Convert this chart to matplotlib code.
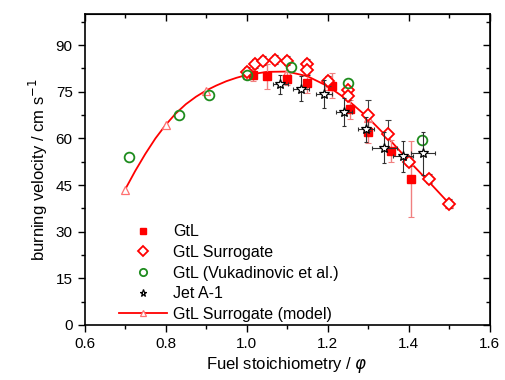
import numpy as np
import matplotlib
matplotlib.use('Agg')
from matplotlib import pyplot as plt

# GtL surrogate model curve
phi_model = [0.700, 0.725, 0.750, 0.775, 0.800, 0.825, 0.850, 0.875, 0.900,
             0.925, 0.950, 0.975, 1.000, 1.050, 1.100, 1.150, 1.200, 1.250,
             1.300, 1.350, 1.400, 1.450, 1.500]
su_model = [43.5, 49.5, 55.0, 60.0, 64.3, 68.0, 71.0, 73.4, 75.4,
            77.0, 78.4, 79.5, 80.4, 81.4, 81.5, 80.0, 76.8, 72.3,
            66.6, 60.0, 52.8, 46.0, 39.0]
model_marks = [0, 4, 8, 12, 14, 16, 18, 20, 22]

# GtL (measured)
phi_gtl = [1.015, 1.05, 1.10, 1.15, 1.21, 1.255, 1.30, 1.355, 1.405]
su_gtl = [80.4, 80.0, 79.2, 77.7, 77.0, 69.3, 62.0, 56.0, 47.0]
err_gtl = [2.0, 4.0, 2.0, 3.0, 4.0, 3.0, 3.5, 3.5, 12.3]

# GtL surrogate (measured)
phi_sur = [1.00, 1.02, 1.04, 1.07, 1.10, 1.15, 1.15, 1.20, 1.25, 1.25,
           1.30, 1.35, 1.40, 1.45, 1.50]
su_sur = [81.5, 84.0, 85.0, 85.3, 85.0, 84.0, 82.0, 78.5, 75.5, 73.8,
          67.5, 61.5, 52.5, 47.0, 39.0]
err_sur = [1.5, 1.5, 1.5, 1.5, 1.5, 1.5, 1.5, 1.5, 1.5, 1.5,
           5.0, 4.5, 1.5, 1.5, 1.5]

# GtL (Vukadinovic et al.)
phi_vuk = [0.71, 0.833, 0.907, 1.00, 1.11, 1.25, 1.432]
su_vuk = [54.0, 67.5, 74.0, 80.5, 83.0, 77.8, 59.5]

# Jet A-1
phi_jet = [1.083, 1.135, 1.19, 1.24, 1.295, 1.34, 1.385, 1.435]
su_jet = [77.4, 76.0, 74.2, 68.6, 62.9, 57.0, 54.3, 55.2]
xerr_jet = [0.018, 0.02, 0.02, 0.02, 0.02, 0.03, 0.025, 0.03]
yerr_jet = [3.0, 4.0, 4.5, 4.5, 4.0, 5.0, 5.0, 7.0]

plt.rcParams['font.family'] = ['Liberation Sans', 'DejaVu Sans']
plt.rcParams['mathtext.fontset'] = 'dejavusans'

fig = plt.figure(figsize=(5.06, 3.8), dpi=100)
ax = fig.add_axes([0.167, 0.145, 0.801, 0.818])

red = '#ff0000'
green = '#1e8c1e'

line_model, = ax.plot(phi_model, su_model, '-', color=red, lw=1.3,
                      marker='^', ms=6, mfc='white', mec='#ff7070', mew=0.9,
                      markevery=model_marks, zorder=2,
                      label='GtL Surrogate (model)')

ax.errorbar(phi_gtl, su_gtl, yerr=err_gtl, fmt='none', ecolor='#f08080',
            elinewidth=1.0, capsize=2, capthick=0.8, zorder=3)
h_gtl, = ax.plot(phi_gtl, su_gtl, 's', color=red, ms=6, zorder=4, label='GtL')

ax.errorbar(phi_sur, su_sur, yerr=err_sur, fmt='none', ecolor='#404040',
            elinewidth=0.8, capsize=2, capthick=0.8, zorder=5)
h_sur, = ax.plot(phi_sur, su_sur, 'D', mfc='white', mec=red, mew=1.3, ms=6.5,
                 zorder=6, label='GtL Surrogate')

h_vuk, = ax.plot(phi_vuk, su_vuk, 'o', mfc='none', mec=green, mew=1.3, ms=7,
                 zorder=7, label='GtL (Vukadinovic et al.)')

ax.errorbar(phi_jet, su_jet, xerr=xerr_jet, yerr=yerr_jet, fmt='none',
            ecolor='#303030', elinewidth=0.8, capsize=1.5, capthick=0.8, zorder=8)
h_jet, = ax.plot(phi_jet, su_jet, '*', mfc='white', mec='black', mew=0.9,
                 ms=7, zorder=9, label='Jet A-1')

ax.set_xlim(0.6, 1.6)
ax.set_ylim(0, 100)
ax.set_xticks(np.arange(0.6, 1.61, 0.2))
ax.set_xticks(np.arange(0.6, 1.61, 0.1), minor=True)
ax.set_yticks(np.arange(0, 91, 15))
ax.set_yticks(np.arange(0, 100, 7.5), minor=True)
ax.xaxis.set_major_formatter(matplotlib.ticker.FormatStrFormatter('%.1f'))
ax.tick_params(which='both', direction='out', labelsize=11, width=1.0)
ax.tick_params(which='major', length=5)
ax.tick_params(which='minor', length=3)
for s in ax.spines.values():
    s.set_linewidth(1.2)

# mirrored inward ticks on the top and right sides
top = ax.secondary_xaxis('top')
top.set_xticks(np.arange(0.6, 1.61, 0.2))
top.set_xticks(np.arange(0.6, 1.61, 0.1), minor=True)
top.tick_params(which='both', direction='in', labeltop=False, width=1.0)
top.tick_params(which='major', length=5)
top.tick_params(which='minor', length=3)
right = ax.secondary_yaxis('right')
right.set_yticks(np.arange(0, 91, 15))
right.set_yticks(np.arange(0, 100, 7.5), minor=True)
right.tick_params(which='both', direction='in', labelright=False, width=1.0)
right.tick_params(which='major', length=5)
right.tick_params(which='minor', length=3)

ax.set_xlabel(r'Fuel stoichiometry / $\varphi$', fontsize=12, labelpad=3)
ax.set_ylabel(r'burning velocity / cm s$^{-1}$', fontsize=12, labelpad=4)

ax.legend(handles=[h_gtl, h_sur, h_vuk, h_jet, line_model],
          loc='lower left', bbox_to_anchor=(0.085, 0.01), frameon=False,
          fontsize=11.5, handlelength=3.0, handletextpad=0.4,
          labelspacing=0.35, borderpad=0, borderaxespad=0, markerscale=0.75)

fig.savefig('out.png', dpi=100)
